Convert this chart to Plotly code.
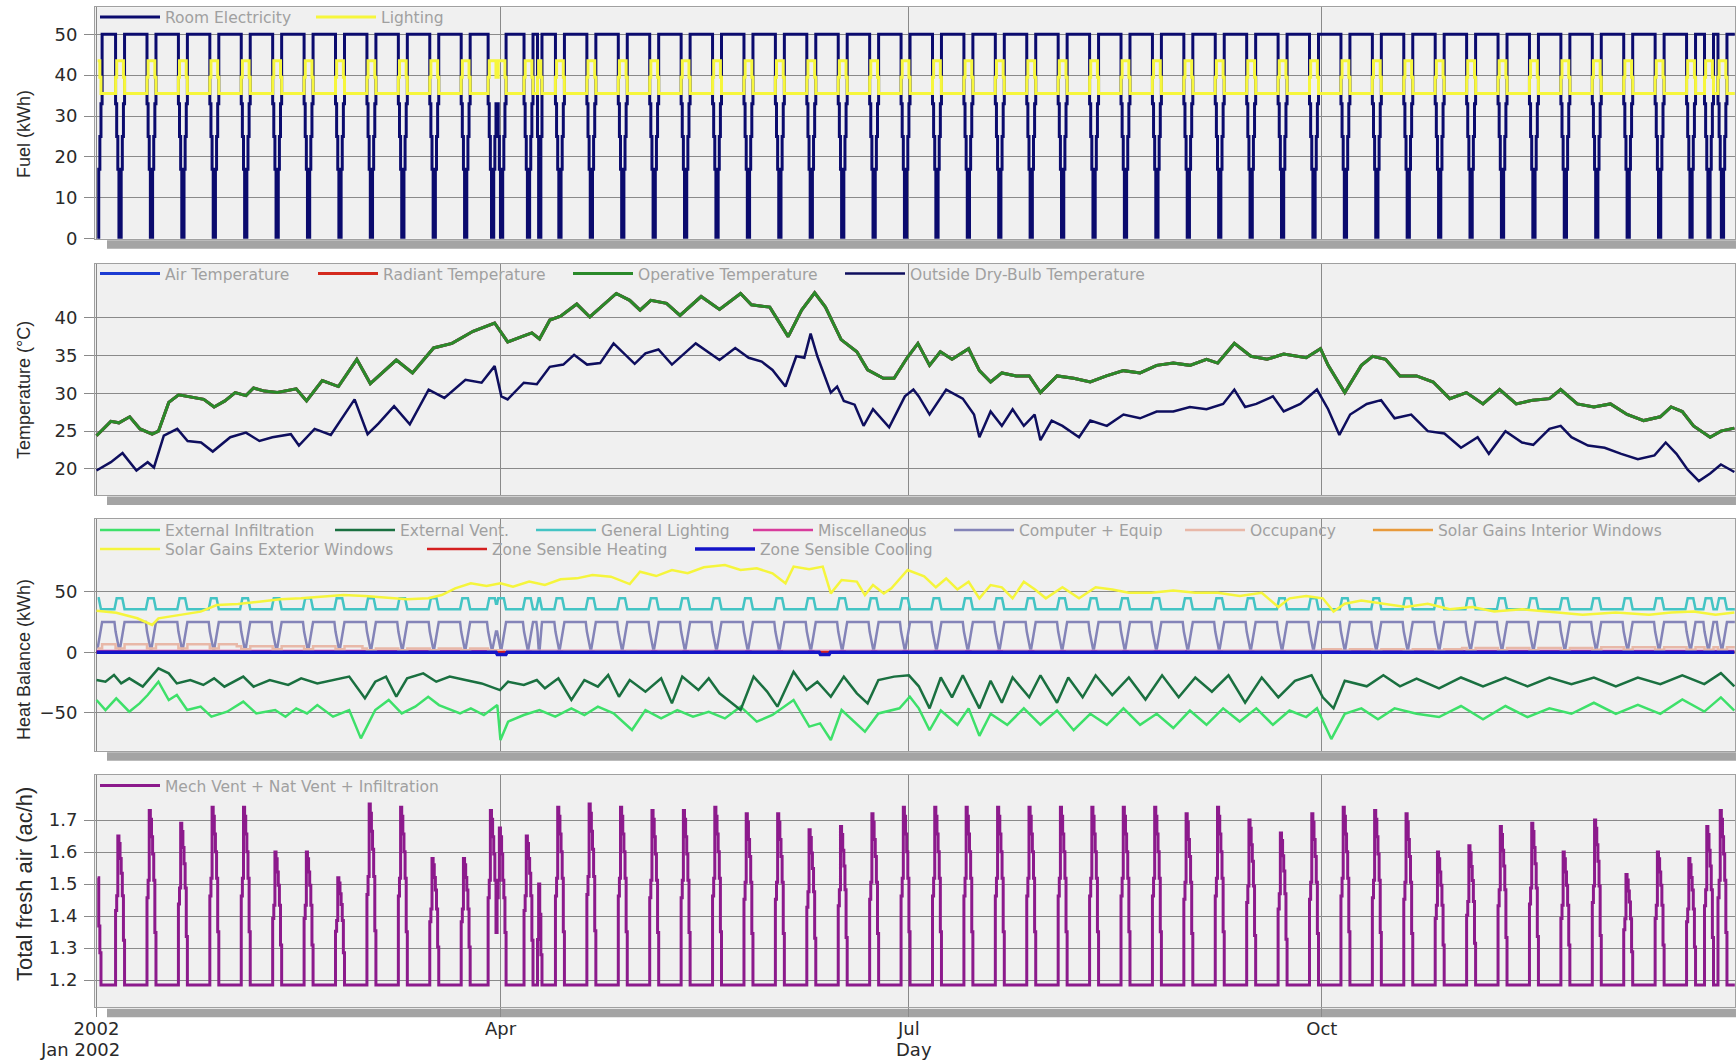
import numpy as np
import pandas as pd
import plotly.graph_objects as go

# ---------------------------------------------------------------- data
START = pd.Timestamp("2002-01-01")
N_DAYS = 365
HOLIDAYS = ["2002-01-01", "2002-03-29", "2002-04-01", "2002-04-09", "2002-12-25", "2002-12-26"]

# Fuel panel (kWh): working-day level and quarter-day steps over non-working blocks
ELEC_WORKDAY = 50
ELEC_OFF = {"lead": [0, 17, 25, 33],
            1: [25, 0, 0, 25],
            2: [33, 25, 17, 0, 0, 17, 25, 33],
            4: [33, 25, 17, 0, 0, 17, 25, 33, 33, 25, 17, 0, 0, 17, 25, 33]}
LIGHT_WORKDAY = 35.5
LIGHT_OFF = {"lead": [43.5, 43.5, 39.5, 35.5],
             1: [39.5, 43.5, 43.5, 39.5],
             2: [39.5, 43.5, 43.5, 43.5, 43.5, 43.5, 43.5, 39.5],
             4: [39.5, 43.5, 43.5, 43.5, 43.5, 43.5, 43.5, 39.5,
                 39.5, 43.5, 43.5, 43.5, 43.5, 43.5, 43.5, 39.5]}

# Temperature panel (deg C)
OP_DAY = [0, 3.2, 5, 7.4, 9.7, 12.4, 13.8, 16.1, 18.3, 22, 23.9, 26.2, 28.6, 30.9, 33.3, 35, 37.4,
          40.3, 44.5, 46.8, 50.3, 53.9, 58, 61, 66.8, 70.4, 75.1, 79.2, 83.9, 88.7, 91.6, 95.2, 97,
          98.7, 101, 103.4, 107, 109.9, 112.9, 115.8, 118.8, 121.1, 123.5, 127, 130, 134.7, 138.8,
          143.5, 145.9, 150, 154.1, 157.1, 160, 162.4, 165.9, 169.4, 171.8, 175.3, 177.7, 180.6, 183,
          185.6, 188, 190.6, 194.3, 196.7, 199.2, 201.7, 204.9, 207.8, 210.3, 214, 217.7, 221.4, 225,
          228.8, 232.5, 236.2, 239.9, 243.6, 247.3, 249.8, 253.5, 257.2, 260.8, 264.5, 269.5, 272.7,
          274.4, 278.1, 281.8, 284.3, 287.2, 290.4, 294.1, 297.8, 301.5, 305.2, 308.9, 312.6, 316.3,
          320, 323.7, 326.2, 329.9, 333.6, 337.3, 341, 344.7, 348.4, 350.8, 353.3, 355.8, 359.5,
          361.9, 364.9]
OP_TEMP = [24.4, 26.3, 26.1, 26.9, 25.3, 24.6, 25.0, 28.8, 29.8, 29.4, 29.2, 28.2, 29.0, 30.1, 29.7,
           30.7, 30.3, 30.1, 30.6, 29.0, 31.7, 30.9, 34.5, 31.3, 34.4, 32.7, 36.0, 36.6, 38.2, 39.3,
           36.8, 37.6, 38.0, 37.2, 39.7, 40.2, 41.8, 40.1, 41.7, 43.2, 42.3, 41.0, 42.3, 41.9, 40.3,
           42.8, 41.1, 43.2, 41.7, 41.4, 37.5, 41.0, 43.3, 41.4, 37.1, 35.5, 33.1, 32.0, 32.0, 34.7,
           36.6, 33.7, 35.5, 34.5, 35.9, 33.0, 31.5, 32.7, 32.3, 32.3, 30.1, 32.3, 32.0, 31.5, 32.3,
           33.0, 32.7, 33.7, 34.0, 33.7, 34.5, 34.0, 36.6, 34.9, 34.5, 35.2, 34.7, 35.9, 33.7, 30.1,
           33.7, 34.9, 34.5, 32.3, 32.3, 31.5, 29.3, 30.1, 28.6, 30.5, 28.6, 29.1, 29.3, 30.5, 28.6,
           28.2, 28.6, 27.2, 26.4, 26.9, 28.2, 27.6, 25.7, 24.2, 25.0, 25.4]
OUT_DAY = [0, 3.2, 5.8, 8.9, 11.4, 12.8, 15, 18, 20.3, 23.3, 25.9, 29.8, 33.3, 36.3, 39.2, 43.3, 45.1,
           48.6, 52.2, 57.5, 60.4, 62.8, 66.3, 69.8, 74, 77.5, 82.2, 85.8, 88.7, 90.2, 91.6, 95.2,
           98.1, 101, 104, 106.4, 109.3, 112.2, 115.2, 119.9, 122.3, 125.2, 128.2, 133.5, 138.8,
           142.3, 145.3, 148.2, 150.6, 153.5, 155.9, 157.7, 159.1, 160.6, 163.6, 165, 166.5, 168.9,
           170.9, 173, 176.6, 180.1, 182, 183.2, 185.6, 189.3, 193, 195.5, 196.7, 199.2, 201.7, 204.1,
           206.6, 209, 210.3, 212.8, 215.2, 218.9, 221.4, 225.1, 228.8, 232.5, 236.2, 239.9, 243.6,
           247.3, 251, 253.5, 255.9, 258.4, 262.1, 264.5, 268.2, 271.9, 274.4, 276.9, 279.3, 283,
           286.2, 289.2, 292.9, 296.6, 300.3, 304, 307.7, 310.2, 313.9, 317.6, 320.1, 323.7, 326.2,
           328.6, 332.3, 336, 339.7, 343.4, 347.1, 349.6, 352, 354.5, 357, 359.5, 361.9, 364.9]
OUT_TEMP = [19.8, 20.9, 22.1, 19.8, 20.9, 20.2, 24.4, 25.3, 23.7, 23.5, 22.3, 24.2, 24.8, 23.7, 24.2,
            24.6, 23.1, 25.3, 24.5, 29.2, 24.6, 26.0, 28.3, 25.9, 30.5, 29.4, 31.8, 31.4, 33.6, 29.6,
            29.2, 31.4, 31.2, 33.5, 33.8, 35.1, 33.8, 34.0, 36.6, 33.9, 35.3, 35.8, 33.8, 36.6, 34.4,
            36.0, 34.7, 34.2, 33.1, 30.9, 34.9, 34.7, 37.9, 34.9, 30.1, 30.9, 29.0, 28.5, 25.7, 27.9,
            25.5, 29.6, 30.5, 29.6, 27.2, 30.5, 29.3, 27.2, 24.2, 27.6, 25.7, 27.9, 25.7, 27.2, 23.8,
            26.4, 25.7, 24.2, 26.4, 25.7, 27.2, 26.7, 27.6, 27.6, 28.2, 27.9, 28.6, 30.5, 28.2, 28.6,
            29.6, 27.6, 28.6, 30.5, 27.9, 24.5, 27.2, 28.6, 29.1, 26.7, 27.2, 25.0, 24.7, 22.8, 24.2,
            22.0, 25.0, 23.5, 23.2, 25.3, 25.7, 24.2, 23.1, 22.8, 22.0, 21.3, 21.8, 23.5, 22.0, 19.9,
            18.4, 19.4, 20.6, 19.6]

# Heat balance panel (kWh)
SOLAR_EXT_DAY = [0, 4.4, 9.1, 12.4, 13.8, 18.5, 23.2, 26.8, 31.5, 36.2, 40.9, 45.6, 50.3, 55, 59.8,
                 64.5, 69.2, 73.9, 76.9, 79.9, 83.4, 86.9, 90, 92.8, 96.4, 99.9, 103.4, 107, 110.5,
                 114.6, 118.8, 121.1, 124.7, 128.2, 131.7, 135.3, 140, 143.5, 147.1, 150.6, 153.5,
                 155.3, 158.8, 161.8, 163.6, 166, 169.4, 171.2, 173, 175.4, 177.1, 180.7, 184.4, 187,
                 189.3, 191.8, 194.3, 196.7, 199.2, 201.7, 204.1, 206.6, 209.1, 211.5, 215.2, 218.9,
                 222.6, 226.3, 230, 235, 239.9, 244.8, 249.8, 254.7, 259.6, 263.3, 265.8, 269.5, 273.2,
                 275.6, 278.1, 281.8, 286.7, 291.7, 296.6, 301.5, 306.5, 311.4, 317.6, 323.7, 331.1,
                 338.5, 345.9, 350.8, 355.8, 360.7, 364.9]
SOLAR_EXT = [34.3, 32.6, 28.0, 22.5, 28.0, 30.7, 33.5, 39.0, 39.8, 41.7, 43.7, 44.5, 45.9, 47.2, 46.4,
             45.3, 43.7, 44.5, 47.2, 52.7, 56.9, 54.7, 56.9, 54.1, 58.3, 55.5, 60.2, 61.0, 63.8, 62.4,
             56.3, 66.5, 62.9, 67.9, 65.2, 70.1, 72.0, 67.9, 69.3, 65.2, 56.9, 70.7, 68.5, 70.7, 48.6,
             59.6, 58.3, 47.2, 55.5, 48.6, 52.7, 67.9, 62.7, 53.6, 60.9, 51.8, 58.2, 44.5, 55.5, 53.6,
             44.5, 58.2, 51.8, 44.5, 53.6, 44.5, 53.6, 51.8, 49.1, 49.1, 50.9, 49.1, 49.1, 46.4, 49.1,
             37.3, 44.5, 46.4, 44.5, 33.6, 40.0, 42.7, 40.0, 37.3, 40.0, 35.5, 37.3, 33.6, 35.5, 33.6,
             30.9, 32.7, 30.9, 32.7, 33.6, 30.9, 32.7]
VENT_DAY = [0, 2, 3.9, 5.5, 7.3, 10.3, 13.8, 16.1, 17.9, 20.9, 23.8, 26.2, 28.5, 32.7, 35, 38.6, 42.7,
            45.6, 49.2, 52.7, 56.3, 59.8, 62.1, 64.5, 66.8, 69.2, 72.8, 75.7, 78.7, 82.2, 85.8, 89.9,
            91.7, 95.2, 98.1, 99.9, 102.9, 105.8, 108.7, 111.7, 114, 116.4, 118.8, 122.3, 125.8, 128.2,
            130.5, 134.1, 136.4, 138.8, 143.5, 146.4, 149.4, 151.7, 155.3, 158.2, 160.6, 163.6, 166.5,
            169.4, 171.8, 174.2, 177.7, 181, 183.2, 185.6, 188.1, 190.6, 193, 196.7, 199.2, 201.7,
            204.1, 207.8, 210.3, 214, 216.5, 219.7, 222.6, 226.3, 230, 233.7, 237.4, 241.1, 244.8,
            248.5, 252.2, 255.9, 259.6, 263.3, 267, 270.7, 273.2, 275.6, 278.1, 283, 286.7, 290.4,
            294.1, 299.1, 304, 308.9, 313.9, 318.8, 323.7, 328.6, 333.6, 338.5, 343.4, 348.4, 353.3,
            358.2, 361.9, 364.9]
VENT = [-23.0, -24.4, -18.9, -25.8, -21.6, -28.5, -13.4, -17.5, -25.8, -23.0, -27.1, -21.6, -28.5,
        -20.2, -28.5, -23.0, -27.1, -21.6, -25.8, -23.0, -20.2, -38.1, -24.4, -20.2, -36.8, -21.6,
        -17.5, -24.4, -20.2, -23.0, -25.8, -31.3, -24.4, -27.1, -23.0, -29.9, -21.6, -39.5, -23.0,
        -28.5, -18.9, -36.8, -23.0, -32.6, -21.6, -42.3, -20.2, -31.3, -21.6, -34.0, -47.8, -20.2,
        -32.6, -45.0, -16.1, -31.3, -24.4, -36.8, -20.2, -34.0, -42.3, -23.0, -20.2, -19.1, -28.2,
        -46.4, -20.9, -37.3, -19.1, -46.4, -23.6, -41.8, -20.9, -37.3, -19.1, -41.8, -20.9, -37.3,
        -19.1, -35.5, -20.9, -39.1, -19.1, -37.3, -20.9, -32.7, -19.1, -41.8, -20.9, -37.3, -23.6,
        -19.1, -37.3, -46.4, -23.6, -28.2, -19.1, -28.2, -21.8, -30.0, -20.9, -28.2, -20.9, -28.2,
        -20.9, -26.4, -20.9, -28.2, -20.9, -26.4, -19.1, -26.4, -17.3, -28.2]
INFIL_DAY = [0, 2, 4.4, 7.3, 9.6, 11.4, 13.8, 16.1, 17.9, 20.2, 23.2, 25.6, 29.1, 32.7, 35.6, 39.8,
             42.1, 44.5, 46.9, 49.2, 52.7, 56.3, 58.9, 62.1, 65.1, 68, 71, 73.9, 76.3, 81, 83.4, 86.3,
             89.3, 90, 91.7, 95.2, 98.7, 102.2, 105.8, 108.7, 111.7, 115.2, 119.3, 122.3, 125.8,
             129.4, 132.9, 136.4, 140, 143.5, 147.1, 150.6, 155.3, 158.8, 161.2, 163.6, 166, 168.9,
             171.2, 174.2, 178.9, 181.2, 183.2, 185.6, 188.1, 191.8, 194.3, 196.7, 199.2, 202.9,
             206.6, 210.3, 214, 217.7, 221.4, 225.1, 228.8, 232.5, 236.2, 239.9, 243.6, 247.3, 251,
             254.7, 258.4, 262.1, 265.8, 269.5, 271.9, 275.1, 278.1, 281.8, 285.5, 289.2, 294.1,
             299.1, 304, 308.9, 313.9, 318.8, 323.7, 328.6, 333.6, 338.5, 343.4, 348.4, 353.3, 358.2,
             361.9, 364.9]
INFIL = [-39.5, -47.8, -38.1, -49.2, -42.3, -35.4, -24.4, -39.5, -35.4, -47.8, -45.0, -53.3, -49.2,
         -40.9, -50.6, -47.8, -53.3, -46.4, -50.6, -43.7, -53.3, -47.8, -71.2, -47.8, -39.5, -50.6,
         -45.0, -36.8, -43.7, -50.6, -46.4, -51.9, -43.7, -72.6, -57.4, -51.9, -47.8, -53.3, -46.4,
         -51.9, -45.0, -50.6, -64.3, -47.8, -54.7, -47.8, -53.3, -49.2, -54.7, -45.0, -57.4, -51.9,
         -39.5, -61.5, -58.8, -72.6, -47.8, -57.4, -65.7, -50.6, -46.4, -36.8, -46.4, -64.5, -48.2,
         -60.0, -46.4, -69.1, -50.9, -60.0, -46.4, -60.0, -48.2, -64.5, -50.9, -60.0, -46.4, -60.0,
         -50.9, -62.7, -48.2, -60.0, -46.4, -57.3, -46.4, -60.0, -48.2, -53.6, -46.4, -71.8, -50.9,
         -46.4, -55.5, -46.4, -50.9, -53.6, -44.5, -55.5, -44.5, -53.6, -46.4, -50.9, -41.8, -50.9,
         -43.6, -50.9, -39.1, -49.1, -37.3, -48.2]
GENLIGHT_WORKDAY = 35.5
GENLIGHT_OFF = {"lead": [44.5, 44.5, 40, 35.5],
                1: [40, 44.5, 44.5, 40],
                2: [40, 44.5, 44.5, 44.5, 44.5, 44.5, 44.5, 40],
                4: [40, 44.5, 44.5, 44.5, 44.5, 44.5, 44.5, 40,
                    40, 44.5, 44.5, 44.5, 44.5, 44.5, 44.5, 40]}
EQUIP_WORKDAY = 25
EQUIP_OFF = {"lead": [3, 8, 12, 17],
             1: [17, 3, 3, 17],
             2: [17, 12, 8, 3, 3, 8, 12, 17],
             4: [17, 12, 8, 3, 3, 8, 12, 17, 17, 12, 8, 3, 3, 8, 12, 17]}
OCC_WORK_BY_MONTH = [6.5, 5.0, 3.0, 1.0, 0.5, 0.5, 0.5, 0.5, 1.0, 2.5, 3.5, 4.0]
OCC_OFF_BY_MONTH = [3.0, 2.5, 1.5, 0.5, 0.2, 0.2, 0.2, 0.2, 0.5, 1.0, 1.5, 2.0]
MISC_DAY = [0, 364.9]
MISC = [1.0, 1.0]
SOLAR_INT_DAY = [0, 364.9]
SOLAR_INT = [0.0, 0.0]
HEATING_DAY = [0, 364.9]
HEATING = [0.0, 0.0]
COOLING_DAY = [0, 89.0, 89.3, 91.2, 91.5, 161.0, 161.3, 163.2, 163.5, 364.9]
COOLING = [0, 0, -2, -2, 0, 0, -2, -2, 0, 0]

# Total fresh air (ac/h): base level and the peak of each non-working block
FRESH_BASE = 1.185
FRESH_PEAKS = [1.52, 1.65, 1.73, 1.69, 1.74, 1.74, 1.60, 1.60, 1.52, 1.75, 1.74, 1.58, 1.58,
               1.73, 1.65, 1.50, 1.74, 1.75, 1.74, 1.73, 1.73, 1.74, 1.72, 1.72, 1.67, 1.68,
               1.72, 1.74, 1.74, 1.74, 1.74, 1.74, 1.74, 1.74, 1.74, 1.74, 1.72, 1.74, 1.70,
               1.66, 1.72, 1.74, 1.73, 1.72, 1.60, 1.62, 1.68, 1.69, 1.60, 1.70, 1.53, 1.60,
               1.58, 1.68, 1.73]
FRESH_SHAPE = {"lead": [1.0, 0.55, 0.3, 0.0],
               1: [0.45, 1.0, 0.7, 0.3],
               2: [0.5, 0.6, 1.0, 0.95, 0.85, 0.75, 0.6, 0.3],
               4: [0.5, 0.6, 1.0, 0.95, 0.85, 0.75, 0.6, 0.3,
                   0.5, 0.6, 0.9, 0.85, 0.75, 0.6, 0.5, 0.3]}

X_TICK_DATES = ["2002-01-01", "2002-04-01", "2002-07-01", "2002-10-01"]
X_TICK_TEXT = ["2002", "Apr", "Jul", "Oct"]

# ---------------------------------------------------------------- build schedule series
days = pd.date_range(START, periods=N_DAYS, freq="D")
hol = set(pd.to_datetime(HOLIDAYS))
off = np.array([(d.weekday() >= 5) or (d in hol) for d in days])
blocks = []
i = 0
while i < N_DAYS:
    if off[i]:
        j = i
        while j < N_DAYS and off[j]:
            j += 1
        blocks.append((i, j - i))
        i = j
    else:
        i += 1

QT = START + pd.to_timedelta(np.arange(N_DAYS * 4) * 6 + 6, unit="h")


def key_for(s, n):
    return "lead" if s == 0 else n


def schedule(work_level, off_profiles):
    vals = np.full((N_DAYS, 4), float(work_level))
    for s, n in blocks:
        vals[s:s + n] = np.array(off_profiles[key_for(s, n)], dtype=float).reshape(n, 4)
    return vals.ravel()


elec = schedule(ELEC_WORKDAY, ELEC_OFF)
light = schedule(LIGHT_WORKDAY, LIGHT_OFF)
genlight = schedule(GENLIGHT_WORKDAY, GENLIGHT_OFF)
equip = schedule(EQUIP_WORKDAY, EQUIP_OFF)

occ = np.zeros((N_DAYS, 4))
for k, d in enumerate(days):
    m = d.month - 1
    occ[k, :] = OCC_OFF_BY_MONTH[m] if off[k] else OCC_WORK_BY_MONTH[m]
occ = occ.ravel()

fresh = np.full((N_DAYS, 4), FRESH_BASE)
for b, (s, n) in enumerate(blocks):
    shp = np.array(FRESH_SHAPE[key_for(s, n)], dtype=float).reshape(n, 4)
    fresh[s:s + n] = FRESH_BASE + shp * (FRESH_PEAKS[b] - FRESH_BASE)
fresh = fresh.ravel()


def to_dt(day_list):
    mins = np.round(np.array(day_list, dtype=float) * 1440).astype(int)
    return START + pd.to_timedelta(mins, unit="m")


# ---------------------------------------------------------------- figure geometry
W, H = 1736, 1063
X_L, X_R = 95, 1735
PANELS = [(7.3, 238.7), (264.0, 495.0), (519.3, 750.7), (775.0, 1007.3)]
Y_RANGES = [[0, 56.6], [16.56, 47.1], [-81.4, 109.8], [1.115, 1.841]]
Y_TICKS = [[0, 10, 20, 30, 40, 50], [20, 25, 30, 35, 40], [-50, 0, 50],
           [1.2, 1.3, 1.4, 1.5, 1.6, 1.7]]
Y_TITLES = ["Fuel (kWh)", "Temperature (°C)", "Heat Balance (kWh)", "Total fresh air (ac/h)"]
Y_TITLE_POS = [134, 390, 660, 884]
Y_TITLE_SIZE = [18, 18, 18, 22]


def fx(p):
    return p / W


def fy(p):
    return 1 - p / H


fig = go.Figure()
TICK_FONT = dict(family="DejaVu Sans, Verdana, sans-serif", size=18, color="#2a2a2a")
LEG_FONT = dict(family="DejaVu Sans, Verdana, sans-serif", size=15.5, color="#a0a0a0")
GRID = "#8a8a8a"
PLOT_BG = "#f0f0f0"

legend_slots = []
LEG_SLOTS = [(100, 17.5), (316, 17.5),
             (100, 274), (318, 274), (573, 274), (845, 274),
             (100, 530.5), (335, 530.5), (536, 530.5), (753, 530.5), (954, 530.5),
             (1185, 530.5), (1373, 530.5), (100, 549.5), (427, 549.5), (695, 549.5),
             (100, 786)]


def add(x, y, name, color, width, panel, shape="linear"):
    n = len(fig.data) + 1
    lg = "legend" if n == 1 else f"legend{n}"
    fig.add_trace(go.Scatter(
        x=x, y=y, name=name, mode="lines",
        line=dict(color=color, width=width, shape=shape),
        xaxis="x" if panel == 1 else f"x{panel}",
        yaxis="y" if panel == 1 else f"y{panel}",
        legend=lg, hoverinfo="skip"))
    legend_slots.append(lg)


add(QT, elec, "Room Electricity", "#0b0b6e", 3, 1, "hv")
add(QT, light, "Lighting", "#f6f63c", 3, 1, "hv")

add(to_dt(OP_DAY), OP_TEMP, "Air Temperature", "#1c3cd2", 3, 2)
add(to_dt(OP_DAY), OP_TEMP, "Radiant Temperature", "#d42a1e", 3, 2)
add(to_dt(OP_DAY), OP_TEMP, "Operative Temperature", "#2a8a2a", 3, 2)
add(to_dt(OUT_DAY), OUT_TEMP, "Outside Dry-Bulb Temperature", "#0e0e5e", 2.5, 2)

add(to_dt(INFIL_DAY), INFIL, "External Infiltration", "#3ee06a", 2.5, 3)
add(to_dt(VENT_DAY), VENT, "External Vent.", "#1a7040", 2.5, 3)
add(QT, genlight, "General Lighting", "#44c4c4", 2.5, 3)
add(to_dt(MISC_DAY), MISC, "Miscellaneous", "#d83c9c", 2.5, 3)
add(QT, equip, "Computer + Equip", "#8484b8", 2.5, 3)
add(QT, occ, "Occupancy", "#e8b8a8", 2.5, 3, "hv")
add(to_dt(SOLAR_INT_DAY), SOLAR_INT, "Solar Gains Interior Windows", "#e89a3c", 2.5, 3)
add(to_dt(SOLAR_EXT_DAY), SOLAR_EXT, "Solar Gains Exterior Windows", "#f5f53c", 2.5, 3)
add(to_dt(HEATING_DAY), HEATING, "Zone Sensible Heating", "#d42020", 2.5, 3)
add(to_dt(COOLING_DAY), COOLING, "Zone Sensible Cooling", "#1414c8", 3.5, 3)

add(QT, fresh, "Mech Vent + Nat Vent + Infiltration", "#8c1a8c", 3, 4, "hv")

x_range = [START - pd.Timedelta(hours=8), START + pd.Timedelta(hours=365 * 24 + 1)]
tick_dates = pd.to_datetime(X_TICK_DATES)

layout = dict(width=W, height=H, margin=dict(l=0, r=0, t=0, b=0, autoexpand=False),
              paper_bgcolor="white", plot_bgcolor=PLOT_BG, showlegend=True,
              annotations=[], shapes=[])

for p in range(1, 5):
    top, bot = PANELS[p - 1]
    xa = "xaxis" if p == 1 else f"xaxis{p}"
    ya = "yaxis" if p == 1 else f"yaxis{p}"
    yref = "y" if p == 1 else f"y{p}"
    xref = "x" if p == 1 else f"x{p}"
    layout[xa] = dict(domain=[fx(X_L), fx(X_R)], anchor=yref, type="date", range=x_range,
                      tickmode="array", tickvals=tick_dates, ticktext=X_TICK_TEXT,
                      showticklabels=(p == 4), ticks="outside" if p == 4 else "",
                      ticklen=9, tickcolor=GRID, showgrid=True, gridcolor=GRID, gridwidth=1,
                      showline=True, mirror=True, linecolor="#a0a0a0", linewidth=1,
                      zeroline=False, tickfont=TICK_FONT, fixedrange=True, automargin=False,
                      ticklabelstandoff=-4)
    if p > 1:
        layout[xa]["matches"] = "x"
    layout[ya] = dict(domain=[fy(bot), fy(top)], anchor=xref, range=Y_RANGES[p - 1],
                      tickmode="array", tickvals=Y_TICKS[p - 1], ticks="outside", ticklen=10,
                      tickcolor=GRID, showgrid=True, gridcolor=GRID, gridwidth=1,
                      showline=True, mirror=True, linecolor="#a0a0a0", linewidth=1,
                      zeroline=False, tickfont=TICK_FONT, ticklabelstandoff=3,
                      fixedrange=True, automargin=False)
    layout["annotations"].append(dict(
        text=Y_TITLES[p - 1], textangle=-90, xref="paper", yref="paper",
        x=fx(24), y=fy(Y_TITLE_POS[p - 1]), xanchor="center", yanchor="middle",
        showarrow=False,
        font=dict(family="Liberation Sans, Arial, sans-serif", size=Y_TITLE_SIZE[p - 1],
                  color="#2a2a2a")))
    # drop shadow under each plot frame
    layout["shapes"].append(dict(type="rect", xref="paper", yref="paper",
                                 x0=fx(X_L + 12), x1=1.0, y0=fy(bot + 10), y1=fy(bot + 1.5),
                                 fillcolor="#a4a4a4", line=dict(width=0), layer="below"))

for lg, (sx, cy) in zip(legend_slots, LEG_SLOTS):
    layout[lg] = dict(orientation="h", x=fx(sx - 5), y=fy(cy), xanchor="left",
                      yanchor="middle", bgcolor="rgba(0,0,0,0)", font=LEG_FONT,
                      itemwidth=60, tracegroupgap=0, itemclick=False, itemdoubleclick=False)

layout["annotations"].append(dict(text="Jan 2002", xref="paper", yref="paper", x=fx(80),
                                  y=fy(1049), xanchor="center", yanchor="middle",
                                  showarrow=False, font=TICK_FONT))
layout["annotations"].append(dict(text="Day", xref="paper", yref="paper", x=fx(914),
                                  y=fy(1049), xanchor="center", yanchor="middle",
                                  showarrow=False, font=TICK_FONT))

fig.update_layout(**layout)
fig.write_html("out.html", config={"displayModeBar": False},
               post_script="document.body.style.margin='0px';"
                           "document.body.style.overflow='hidden';")
